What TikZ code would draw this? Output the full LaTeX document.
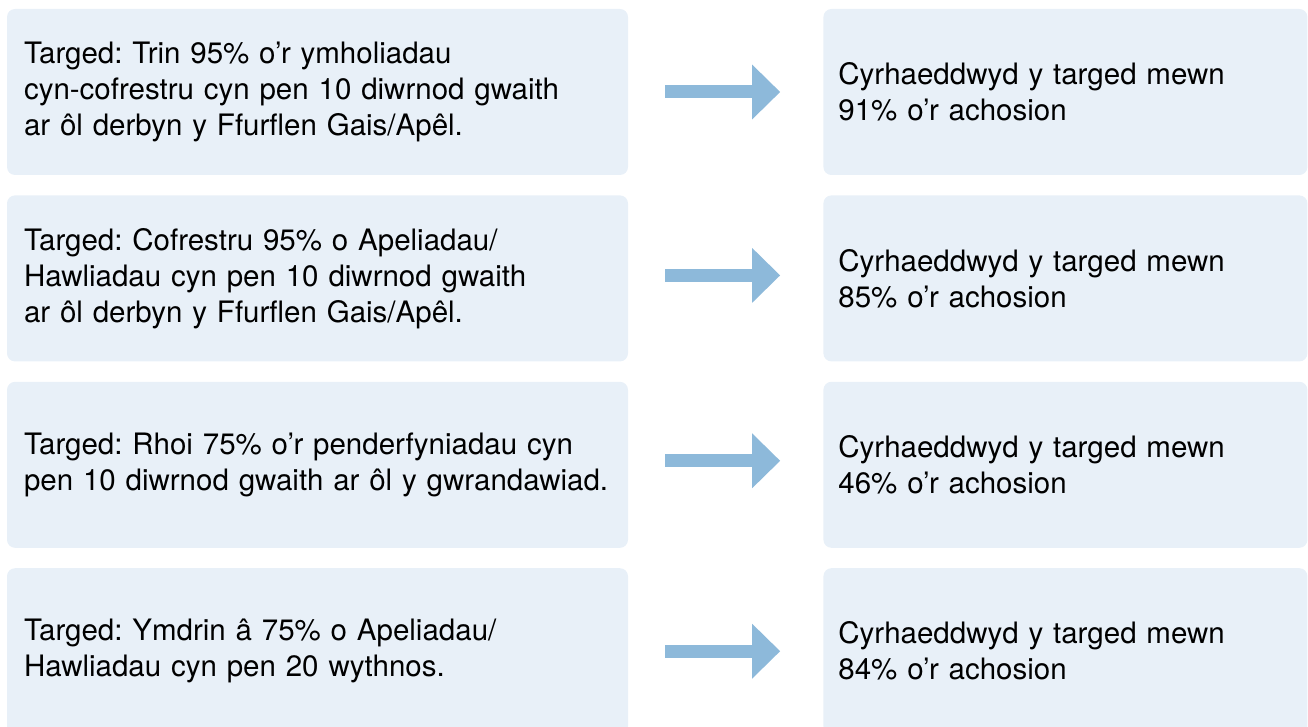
\documentclass[tikz,border=0pt]{standalone}
\usepackage{fontspec}
\setmainfont{TeX Gyre Heros}
\usepackage{tikz}
\usetikzlibrary{positioning,arrows.meta}
\usepackage{xcolor}
\frenchspacing

\definecolor{boxblue}{HTML}{E8F0F8}
\definecolor{arrowblue}{HTML}{8DB9DA}

\begin{document}
\begin{tikzpicture}[
    x=1pt, y=-1pt,
    node distance=20pt and 195pt,
    every node/.style={font=\fontsize{29.5}{36}\selectfont},
    targetbox/.style={fill=boxblue, rounded corners=8pt, minimum height=166pt,
        text width=587pt, inner xsep=17pt, align=left},
    resultbox/.style={fill=boxblue, rounded corners=8pt, minimum height=166pt,
        text width=454pt, inner xsep=15pt, align=left},
    blockarrow/.style={draw=arrowblue, line width=13pt, shorten <=37pt, shorten >=43pt,
        -{Triangle[length=28pt, width=53pt]}}
]
    \useasboundingbox (0,0) rectangle (1308,727);
    \clip (0,0) rectangle (1308,727);

    \node[targetbox] (t1) at (317.5,92) {Targed: Trin 95\% o’r ymholiadau\\cyn-cofrestru cyn pen 10 diwrnod gwaith\\ar ôl derbyn y Ffurflen Gais/Apêl.};
    \node[targetbox, below=of t1] (t2) {Targed: Cofrestru 95\% o Apeliadau/\\Hawliadau cyn pen 10 diwrnod gwaith\\ar ôl derbyn y Ffurflen Gais/Apêl.};
    \node[targetbox, below=of t2] (t3) {Targed: Rhoi 75\% o’r penderfyniadau cyn\\pen 10 diwrnod gwaith ar ôl y gwrandawiad.};
    \node[targetbox, below=of t3] (t4) {Targed: Ymdrin â 75\% o Apeliadau/\\Hawliadau cyn pen 20 wythnos.};

    \node[resultbox, right=of t1] (r1) {Cyrhaeddwyd y targed mewn\\91\% o’r achosion};
    \node[resultbox, right=of t2] (r2) {Cyrhaeddwyd y targed mewn\\85\% o’r achosion};
    \node[resultbox, right=of t3] (r3) {Cyrhaeddwyd y targed mewn\\46\% o’r achosion};
    \node[resultbox, right=of t4] (r4) {Cyrhaeddwyd y targed mewn\\84\% o’r achosion};

    \draw[blockarrow] (t1) -- (r1);
    \draw[blockarrow] ([yshift=3pt]t2.east) -- ([yshift=3pt]r2.west);
    \draw[blockarrow] ([yshift=4pt]t3.east) -- ([yshift=4pt]r3.west);
    \draw[blockarrow] (t4) -- (r4);
\end{tikzpicture}
\end{document}
